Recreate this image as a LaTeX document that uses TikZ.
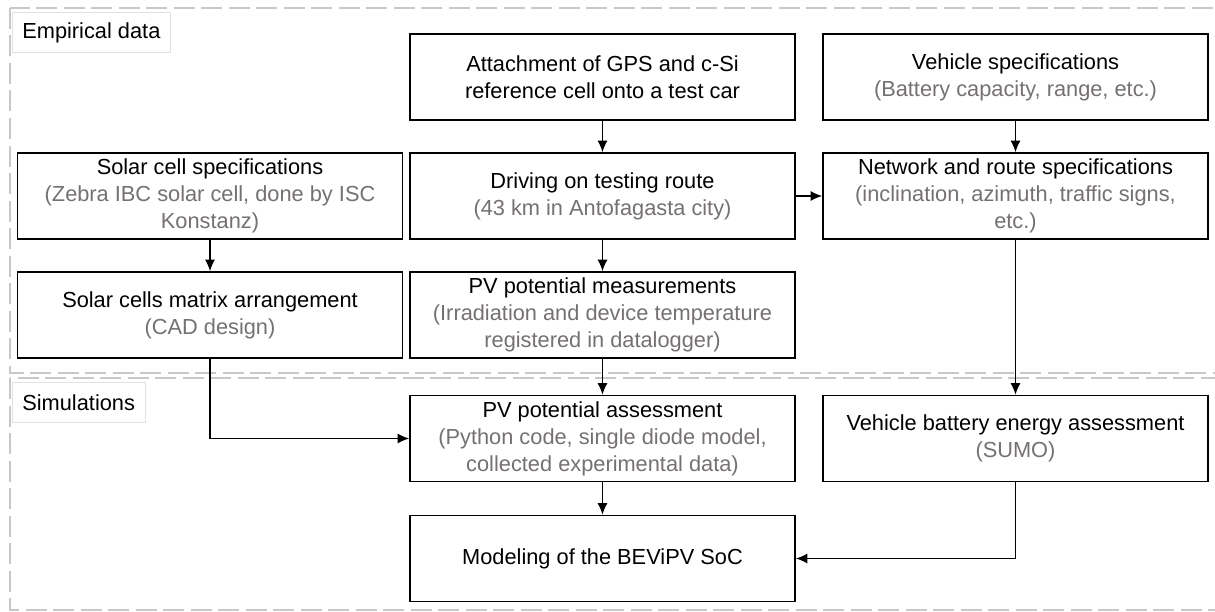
\documentclass[tikz,border=0pt]{standalone}
\usepackage{fontspec}
\setmainfont{Liberation Sans}
\usetikzlibrary{arrows.meta}

\definecolor{subgray}{RGB}{118,113,113}
\definecolor{zonegray}{RGB}{200,200,200}
\definecolor{tabgray}{RGB}{225,225,225}

\tikzset{
    procbox/.style={draw=black,line width=0.9pt,fill=white,align=center,
        minimum width=7.7cm,minimum height=1.72cm,inner sep=2pt,
        font=\fontsize{12.4}{15.3}\selectfont},
    zoneline/.style={draw=zonegray,line width=1.5pt,dash pattern=on 0.42cm off 0.13cm},
    zonetab/.style={draw=tabgray,line width=0.4pt,fill=white,anchor=north west,
        minimum height=0.8cm,inner xsep=0.2cm,font=\fontsize{12.4}{15.3}\selectfont},
    flowarrow/.style={draw=black,line width=0.8pt,-{Latex[length=2.3mm,width=2mm]}}
}

\newcommand{\subtxt}[1]{\textcolor{subgray}{#1}}

\begin{document}
\begin{tikzpicture}
        \useasboundingbox (0,0) rectangle (24.3,-12.24);

        \begin{scope}
            \clip (0,0) rectangle (24.3,-12.24);
            \draw[zoneline] (0.2,-0.16) rectangle (25,-7.46);
            \draw[zoneline] (0.2,-7.56) rectangle (25,-12.2);
        \end{scope}

        \node[zonetab] (empirical) at (0.24,-0.25) {Empirical data};
        \node[zonetab] (simul) at (0.24,-7.64) {Simulations};

        \node[procbox] (attach) at (12.05,-1.54) {Attachment of GPS and c-Si\\reference cell onto a test car};
        \node[procbox] (vspec) at (20.31,-1.54) {Vehicle specifications\\\subtxt{(Battery capacity, range, etc.)}};
        \node[procbox] (cellspec) at (4.20,-3.92) {Solar cell specifications\\\subtxt{(Zebra IBC solar cell, done by ISC}\\\subtxt{Konstanz)}};
        \node[procbox] (drive) at (12.05,-3.92) {Driving on testing route\\\subtxt{(43 km in Antofagasta city)}};
        \node[procbox] (netw) at (20.31,-3.92) {Network and route specifications\\\subtxt{(inclination, azimuth, traffic signs,}\\\subtxt{etc.)}};
        \node[procbox] (matrix) at (4.20,-6.30) {Solar cells matrix arrangement\\\subtxt{(CAD design)}};
        \node[procbox] (pvmeas) at (12.05,-6.30) {PV potential measurements\\\subtxt{(Irradiation and device temperature}\\\subtxt{registered in datalogger)}};
        \node[procbox] (pvassess) at (12.05,-8.77) {PV potential assessment\\\subtxt{(Python code, single diode model,}\\\subtxt{collected experimental data)}};
        \node[procbox] (battery) at (20.31,-8.77) {Vehicle battery energy assessment\\\subtxt{(SUMO)}};
        \node[procbox] (model) at (12.05,-11.17) {Modeling of the BEViPV SoC};

        \draw[flowarrow] (attach) -- (drive);
        \draw[flowarrow] (vspec) -- (netw);
        \draw[flowarrow] (cellspec) -- (matrix);
        \draw[flowarrow] (drive) -- (pvmeas);
        \draw[flowarrow] (drive) -- (netw);
        \draw[flowarrow] (netw) -- (battery);
        \draw[flowarrow] (pvmeas) -- (pvassess);
        \draw[flowarrow] (matrix) |- (pvassess);
        \draw[flowarrow] (pvassess) -- (model);
        \draw[flowarrow] (battery) |- (model);
    \end{tikzpicture}
\end{document}
